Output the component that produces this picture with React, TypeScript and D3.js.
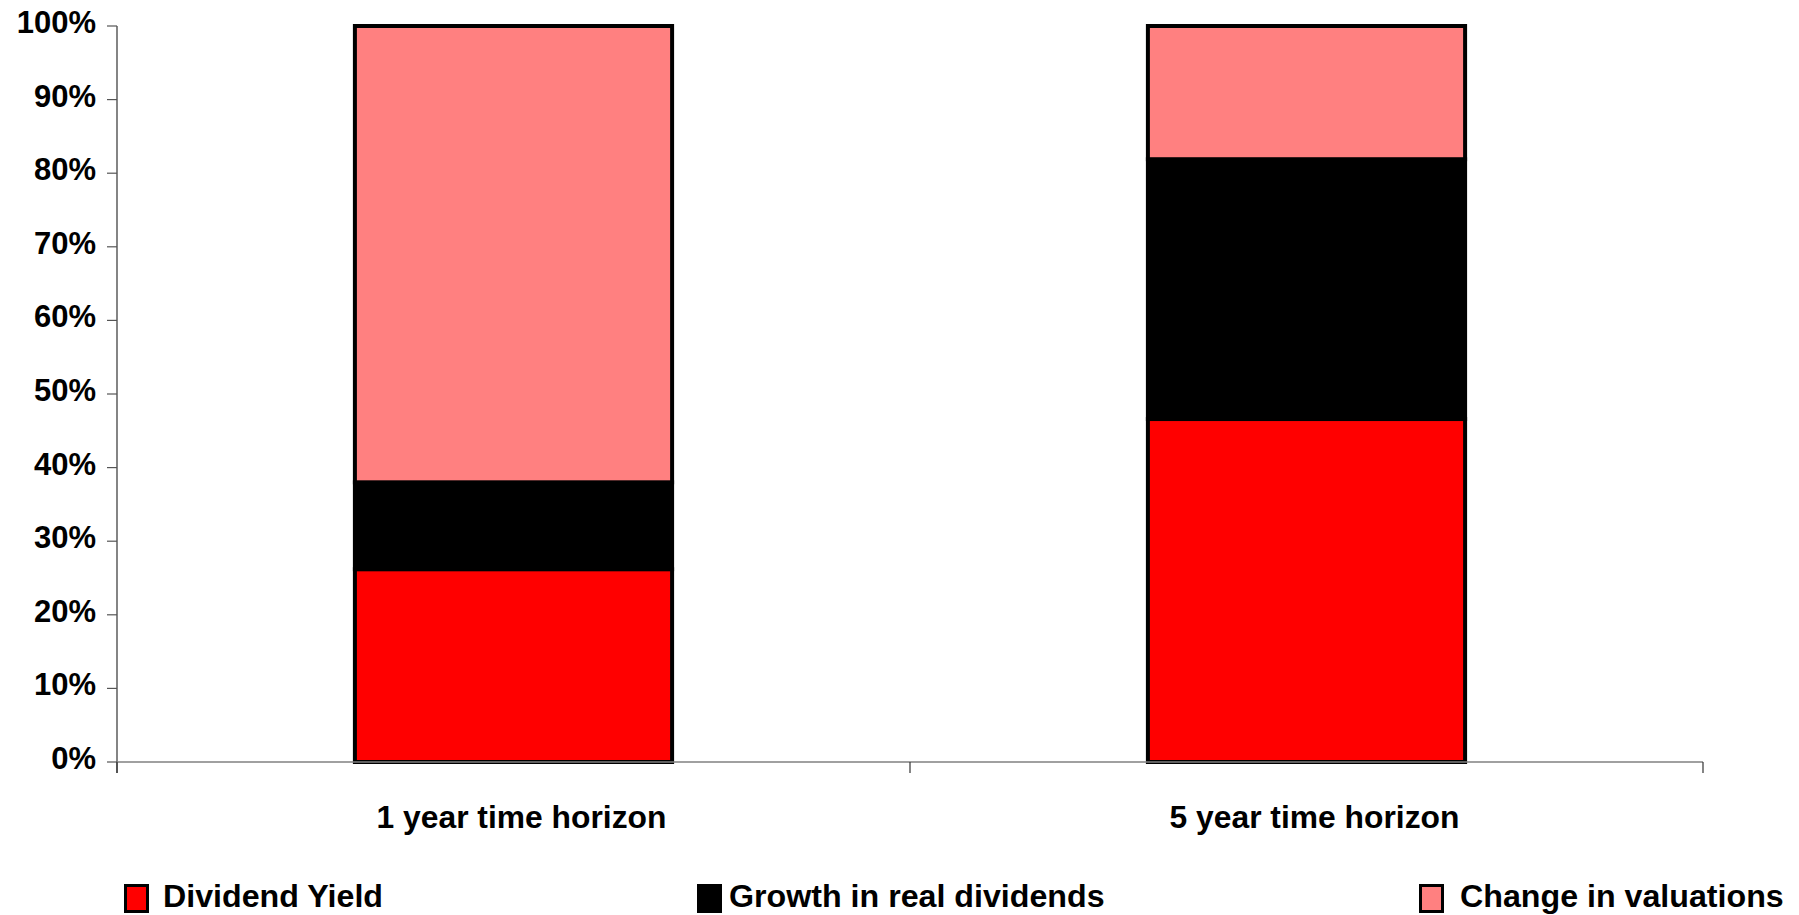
import React from "react";
import * as d3 from "d3";

const categories = ["1 year time horizon", "5 year time horizon"];
const seriesNames = ["Dividend Yield", "Growth in real dividends", "Change in valuations"];
const dividendYield = [0.262, 0.466];
const growthInRealDividends = [0.118, 0.353];
const changeInValuations = [0.62, 0.181];
const yTicks = [0, 0.1, 0.2, 0.3, 0.4, 0.5, 0.6, 0.7, 0.8, 0.9, 1.0];
const colors = ["#FF0000", "#000000", "#FF8080"];

const W = 1799;
const H = 915;
const left = 117;
const right = 1703;
const top = 26;
const bottom = 762;
const FONT = "'Liberation Sans', Arial, Helvetica, sans-serif";
const legendBoxX = [124, 697, 1419];
const legendTextX = [163, 729, 1460];

export default function App() {
  const x = d3.scaleBand<string>().domain(categories).range([left, right]).paddingInner(0.6).paddingOuter(0.3);
  const y = d3.scaleLinear().domain([0, 1]).range([bottom, top]);
  const rows = categories.map((c, i) => ({
    cat: c,
    s0: dividendYield[i],
    s1: growthInRealDividends[i],
    s2: changeInValuations[i],
  }));
  const stack = d3.stack<any>().keys(["s0", "s1", "s2"]);
  const layers = stack(rows);
  const fmt = d3.format(".0%");
  const step = x.step();
  const xTickPositions = [left, left + step, left + 2 * step];

  return (
    <svg width={W} height={H} style={{ position: "absolute", left: 0, top: 0, background: "#fff" }} fontFamily={FONT}>
      {/* bars */}
      {layers.map((layer, li) => (
        <g key={li}>
          {layer.map((d, i) => (
            <rect
              key={i}
              x={x(categories[i])!}
              y={y(d[1])}
              width={x.bandwidth()}
              height={y(d[0]) - y(d[1])}
              fill={colors[li]}
              stroke="#000"
              strokeWidth={4}
            />
          ))}
        </g>
      ))}
      {/* y axis */}
      <line x1={left} x2={left} y1={top} y2={bottom + 11} stroke="#333" strokeWidth={1.2} />
      {yTicks.map((t) => (
        <g key={t}>
          <line x1={left - 10} x2={left} y1={y(t)} y2={y(t)} stroke="#555" strokeWidth={1.2} />
          <text x={96} y={y(t) + 7} textAnchor="end" fontSize={31} fontWeight="bold" fill="#000">
            {fmt(t)}
          </text>
        </g>
      ))}
      {/* x axis */}
      <line x1={left} x2={right} y1={bottom} y2={bottom} stroke="#808080" strokeWidth={1.5} />
      {xTickPositions.map((p, i) => (
        <line key={i} x1={p} x2={p} y1={bottom} y2={bottom + 11} stroke="#333" strokeWidth={1.2} />
      ))}
      {categories.map((c) => (
        <text key={c} x={x(c)! + x.bandwidth() / 2 + 8} y={828} textAnchor="middle" fontSize={31.8} fontWeight="bold" fill="#000">
          {c}
        </text>
      ))}
      {/* legend */}
      {seriesNames.map((s, i) => (
        <g key={s}>
          <rect x={legendBoxX[i] + 1.5} y={885.5} width={22} height={26} fill={colors[i]} stroke="#000" strokeWidth={3} />
          <text x={legendTextX[i]} y={907} fontSize={32.2} fontWeight="bold" fill="#000">
            {s}
          </text>
        </g>
      ))}
    </svg>
  );
}
